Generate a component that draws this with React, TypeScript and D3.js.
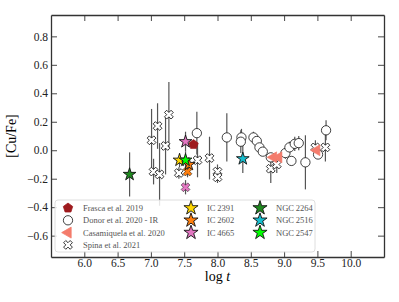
import React, {useRef, useEffect} from 'react'
import * as d3 from 'd3'

// each row: [log t, [Cu/Fe], error]
const frasca = [[7.64, 0.04, 0]]

const donor = [
	[7.69, 0.12, 0.15],
	[8.14, 0.09, 0.17],
	[8.36, 0.09, 0.06],
	[8.35, 0.06, 0.08],
	[8.54, 0.09, 0.04],
	[8.59, 0.065, 0.03],
	[8.63, 0.02, 0.02],
	[8.68, -0.01, 0.03],
	[8.80, -0.05, 0.03],
	[9.02, -0.02, 0.04],
	[9.08, 0.02, 0.04],
	[9.16, 0.045, 0.05],
	[9.22, 0.05, 0.05],
	[9.11, -0.075, 0.03],
	[9.32, -0.085, 0.19],
	[9.51, -0.03, 0.03],
	[9.63, 0.14, 0.07],
]

const casamiquela = [[8.84, -0.05, 0.02], [8.92, -0.05, 0.02], [9.49, 0.0, 0.03]]

const spina = [
	[7.01, 0.07, 0.22],
	[7.04, -0.15, 0.09],
	[7.10, 0.17, 0.16],
	[7.13, -0.17, 0.22],
	[7.22, 0.03, 0.2],
	[7.27, 0.25, 0.23],
	[7.42, -0.16, 0.04],
	[7.70, -0.07, 0.12],
	[7.88, -0.055, 0.15],
	[8.00, -0.15, 0.05],
	[8.00, -0.19, 0.04],
	[8.80, -0.13, 0.1],
	[8.89, -0.10, 0.06],
	[9.47, 0.02, 0.05],
	[9.62, 0.02, 0.1],
]

// spina members coloured by cluster
const spinaMembers = [[7.52, -0.26, 0.05, 'IC 4665'], [7.55, -0.15, 0.04, 'IC 2602']]

const clusterNames = ['IC 2391', 'IC 2602', 'IC 4665', 'NGC 2264', 'NGC 2516', 'NGC 2547']
const clusterColors = ['#ffd700', '#ff7f0e', '#e377c2', '#1f8a1f', '#17becf', '#00ff00']
const clusterAge = [7.43, 7.57, 7.52, 6.68, 8.38, 7.52]
const clusterCuFe = [-0.07, -0.10, 0.06, -0.17, -0.06, -0.07]
const clusterErr = [0.05, 0.05, 0.07, 0.155, 0.1, 0.06]

const xTicks = [6.0, 6.5, 7.0, 7.5, 8.0, 8.5, 9.0, 9.5, 10.0]
const yTicks = [-0.6, -0.4, -0.2, 0.0, 0.2, 0.4, 0.6, 0.8]

const pentagon = {
	draw(context, size) {
		const r = Math.sqrt(size / 2.378)
		for (let i = 0; i < 5; i++) {
			const a = -Math.PI / 2 + i * 2 * Math.PI / 5
			if (i == 0) context.moveTo(r * Math.cos(a), r * Math.sin(a))
			else context.lineTo(r * Math.cos(a), r * Math.sin(a))
		}
		context.closePath()
	}
}

const FONT = "'Liberation Serif', 'DejaVu Serif', serif"

export default function App() {
	const ref = useRef(null)

	const layout = {width: 399, height: 302, left: 51, right: 384, top: 15, bottom: 257}

	useEffect(() => {
		const svg = d3.select(ref.current)
		svg.selectAll('*').remove()

		const x = d3.scaleLinear().domain([5.5, 10.5]).range([layout.left, layout.right])
		const y = d3.scaleLinear().domain([-0.75, 0.95]).range([layout.bottom, layout.top])

		const fmt = d3.format('.1f')
		const frameColor = '#333'

		const styleAxis = (g) => {
			g.select('.domain').attr('stroke', frameColor).attr('stroke-width', 1.3)
			g.selectAll('.tick line').attr('stroke', frameColor).attr('stroke-width', 0.9)
			g.selectAll('.tick text').attr('font-family', FONT).attr('font-size', 11.5).attr('fill', '#222')
		}

		svg.append('g')
			.attr('transform', `translate(0, ${layout.bottom})`)
			.call(d3.axisBottom(x).tickValues(xTicks).tickFormat(fmt).tickSizeInner(-6).tickSizeOuter(0).tickPadding(2))
			.call(styleAxis)
		svg.append('g')
			.attr('transform', `translate(0, ${layout.top})`)
			.call(d3.axisTop(x).tickValues(xTicks).tickFormat(() => '').tickSizeInner(-6).tickSizeOuter(0))
			.call(styleAxis)
		svg.append('g')
			.attr('transform', `translate(${layout.left}, 0)`)
			.call(d3.axisLeft(y).tickValues(yTicks).tickFormat(fmt).tickSizeInner(-6).tickSizeOuter(0).tickPadding(3))
			.call(styleAxis)
		svg.append('g')
			.attr('transform', `translate(${layout.right}, 0)`)
			.call(d3.axisRight(y).tickValues(yTicks).tickFormat(() => '').tickSizeInner(-6).tickSizeOuter(0))
			.call(styleAxis)

		// axis labels
		svg.append('text')
			.attr('transform', `translate(16, ${(layout.top + layout.bottom) / 2}) rotate(-90)`)
			.attr('text-anchor', 'middle')
			.attr('font-family', FONT)
			.attr('font-size', 14)
			.text('[Cu/Fe]')
		const xl = svg.append('text')
			.attr('x', (layout.left + layout.right) / 2)
			.attr('y', 281)
			.attr('text-anchor', 'middle')
			.attr('font-family', FONT)
			.attr('font-size', 14)
		xl.append('tspan').text('log ')
		xl.append('tspan').attr('font-style', 'italic').text('t')

		const g = svg.append('g')

		// error bars
		const bars = [...donor, ...spina, ...casamiquela, ...spinaMembers, ...clusterAge.map((a, i) => [a, clusterCuFe[i], clusterErr[i]])]
		g.selectAll('.err')
			.data(bars.filter(d => d[2] > 0))
			.join('line')
			.attr('class', 'err')
			.attr('x1', d => x(d[0]))
			.attr('x2', d => x(d[0]))
			.attr('y1', d => y(d[1] - d[2]))
			.attr('y2', d => y(d[1] + d[2]))
			.attr('stroke', '#555')
			.attr('stroke-width', 1.2)

		const circlePath = d3.symbol().type(d3.symbolCircle).size(68)()
		const crossPath = d3.symbol().type(d3.symbolCross).size(48)()
		const triPath = d3.symbol().type(d3.symbolTriangle).size(52)()
		const pentPath = d3.symbol().type(pentagon).size(58)()
		const starPath = d3.symbol().type(d3.symbolStar).size(50)()
		const starBig = d3.symbol().type(d3.symbolStar).size(62)()

		g.selectAll('.donor')
			.data(donor)
			.join('path')
			.attr('class', 'donor')
			.attr('d', circlePath)
			.attr('transform', d => `translate(${x(d[0])}, ${y(d[1])})`)
			.attr('fill', 'white')
			.attr('stroke', '#111')
			.attr('stroke-width', 0.8)

		g.selectAll('.spina')
			.data(spina)
			.join('path')
			.attr('class', 'spina')
			.attr('d', crossPath)
			.attr('transform', d => `translate(${x(d[0])}, ${y(d[1])}) rotate(45)`)
			.attr('fill', 'white')
			.attr('stroke', '#111')
			.attr('stroke-width', 0.8)

		g.selectAll('.casa')
			.data(casamiquela)
			.join('path')
			.attr('class', 'casa')
			.attr('d', triPath)
			.attr('transform', d => `translate(${x(d[0])}, ${y(d[1])}) rotate(-90)`)
			.attr('fill', '#f47c6c')
			.attr('stroke', '#f47c6c')
			.attr('stroke-width', 0.6)

		g.selectAll('.frasca')
			.data(frasca)
			.join('path')
			.attr('class', 'frasca')
			.attr('d', pentPath)
			.attr('transform', d => `translate(${x(d[0])}, ${y(d[1])})`)
			.attr('fill', '#9e1b1e')
			.attr('stroke', '#9e1b1e')
			.attr('stroke-width', 0.6)

		g.selectAll('.member')
			.data(spinaMembers)
			.join('path')
			.attr('class', 'member')
			.attr('d', crossPath)
			.attr('transform', d => `translate(${x(d[0])}, ${y(d[1])}) rotate(45)`)
			.attr('fill', d => clusterColors[clusterNames.indexOf(d[3])])
			.attr('stroke', '#111')
			.attr('stroke-width', 0.5)

		g.selectAll('.cluster')
			.data(clusterNames)
			.join('path')
			.attr('class', 'cluster')
			.attr('d', starPath)
			.attr('transform', (d, i) => `translate(${x(clusterAge[i])}, ${y(clusterCuFe[i])})`)
			.attr('fill', (d, i) => clusterColors[i])
			.attr('stroke', '#111')
			.attr('stroke-width', 0.9)

		// legend
		const legend = svg.append('g').attr('transform', 'translate(55, 200)')
		legend.append('rect')
			.attr('width', 260)
			.attr('height', 52)
			.attr('rx', 3)
			.attr('fill', 'white')
			.attr('fill-opacity', 0.85)
			.attr('stroke', '#d5d5d5')
			.attr('stroke-width', 0.8)

		const refs = [
			{label: 'Frasca et al. 2019', d: pentPath, fill: '#9e1b1e', stroke: '#9e1b1e', rot: 0},
			{label: 'Donor et al. 2020 - IR', d: circlePath, fill: 'white', stroke: '#111', rot: 0},
			{label: 'Casamiquela et al. 2020', d: triPath, fill: '#f47c6c', stroke: '#f47c6c', rot: -90},
			{label: 'Spina et al. 2021', d: crossPath, fill: 'white', stroke: '#111', rot: 45},
		]
		const rowY = (i) => 8 + i * 12.3

		legend.selectAll('.ref-mark')
			.data(refs)
			.join('path')
			.attr('class', 'ref-mark')
			.attr('d', d => d.d)
			.attr('transform', (d, i) => `translate(13, ${rowY(i)}) rotate(${d.rot})`)
			.attr('fill', d => d.fill)
			.attr('stroke', d => d.stroke)
			.attr('stroke-width', 0.8)
		legend.selectAll('.ref-text')
			.data(refs)
			.join('text')
			.attr('class', 'ref-text')
			.attr('x', 28)
			.attr('y', (d, i) => rowY(i))
			.attr('dy', '0.35em')
			.attr('font-family', FONT)
			.attr('font-size', 8.5)
			.attr('fill', '#555')
			.text(d => d.label)

		legend.selectAll('.cl-mark')
			.data(clusterNames)
			.join('path')
			.attr('class', 'cl-mark')
			.attr('d', starBig)
			.attr('transform', (d, i) => `translate(${i < 3 ? 136 : 205}, ${rowY(i % 3)})`)
			.attr('fill', (d, i) => clusterColors[i])
			.attr('stroke', '#111')
			.attr('stroke-width', 0.9)
		legend.selectAll('.cl-text')
			.data(clusterNames)
			.join('text')
			.attr('class', 'cl-text')
			.attr('x', (d, i) => i < 3 ? 152 : 221)
			.attr('y', (d, i) => rowY(i % 3))
			.attr('dy', '0.35em')
			.attr('font-family', FONT)
			.attr('font-size', 8.5)
			.attr('fill', '#555')
			.text(d => d.replace(' ', '\u2009'))
	}, [])

	return (
		<svg ref={ref} width={layout.width} height={layout.height}
			style={{position: 'absolute', left: 0, top: 0, background: 'white'}} />
	)
}
